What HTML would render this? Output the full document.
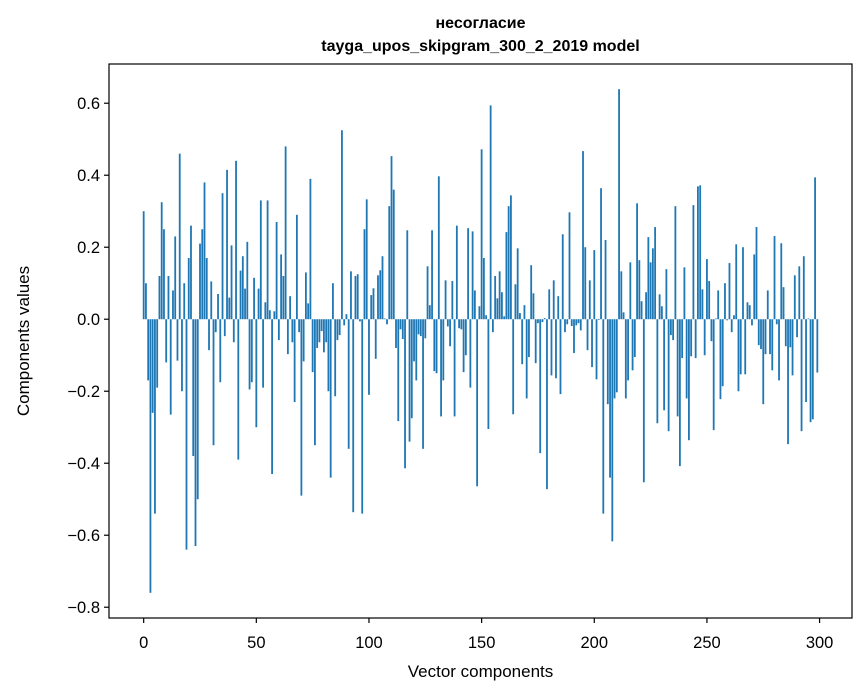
<!DOCTYPE html>
<html><head><meta charset="utf-8">
<style>
html,body{margin:0;padding:0;background:#fff;}
svg{display:block;font-family:"Liberation Sans","DejaVu Sans",sans-serif;}
</style></head>
<body>
<svg id="chart" width="867" height="696" viewBox="0 0 867 696" xmlns="http://www.w3.org/2000/svg">
<rect width="867" height="696" fill="#fff"/>
<text x="480.5" y="28" text-anchor="middle" font-size="16" font-weight="bold" fill="#000">несогласие</text>
<text x="480.5" y="51" text-anchor="middle" font-size="16" font-weight="bold" fill="#000">tayga_upos_skipgram_300_2_2019 model</text>
<g id="bars"></g>
<g id="yticks"></g>
<g id="xticks"></g>
<rect x="109" y="64" width="743" height="554" fill="none" stroke="#000" stroke-width="1.2"/>
<text x="480.5" y="677" text-anchor="middle" font-size="17" fill="#000">Vector components</text>
<text transform="translate(29,341) rotate(-90)" text-anchor="middle" font-size="17" fill="#000">Components values</text>
</svg>
<script>
const values = [
0.30,0.10,-0.17,-0.76,-0.26,-0.54,-0.19,0.12,0.325,0.25,
-0.12,0.12,-0.265,0.08,0.23,-0.115,0.46,-0.20,0.10,-0.64,
0.17,0.26,-0.38,-0.63,-0.50,0.21,0.25,0.38,0.17,-0.086,
0.105,-0.35,-0.036,0.07,-0.175,0.35,-0.047,0.415,0.06,0.205,
-0.064,0.44,-0.39,0.135,0.175,0.085,0.215,-0.195,-0.175,0.115,
-0.30,0.085,0.33,-0.19,0.047,0.33,0.025,-0.43,0.022,0.27,
-0.058,0.18,0.12,0.48,-0.097,0.064,-0.064,-0.23,0.29,-0.036,
-0.49,-0.117,0.13,0.044,0.39,-0.147,-0.35,-0.08,-0.064,-0.033,
-0.092,-0.064,-0.20,-0.44,0.10,-0.214,-0.058,-0.044,0.525,-0.017,
0.014,-0.36,0.133,-0.536,0.12,0.125,-0.006,-0.54,0.25,0.333,
-0.21,0.067,0.086,-0.11,0.122,0.136,0.175,0.002,-0.014,0.314,
0.453,0.36,-0.08,-0.283,-0.028,-0.055,-0.414,0.247,-0.34,-0.275,
-0.117,-0.17,-0.042,-0.047,-0.36,-0.053,0.147,0.039,0.247,-0.144,
-0.15,0.397,-0.27,-0.17,0.108,-0.02,-0.075,0.106,-0.27,0.26,
-0.025,-0.028,-0.147,-0.1,0.253,-0.19,0.244,0.08,-0.464,0.036,
0.472,0.17,0.011,-0.305,0.594,-0.036,0.12,0.058,0.133,0.075,
0.008,0.242,0.314,0.344,-0.264,0.097,0.197,0.017,-0.125,0.039,
-0.22,-0.105,0.15,0.072,-0.122,-0.011,-0.372,-0.008,0.003,-0.472,
0.083,-0.156,0.108,-0.164,0.064,-0.208,0.236,-0.036,-0.014,0.297,
-0.019,-0.094,-0.017,-0.011,-0.031,0.467,0.2,-0.086,0.108,-0.133,
0.192,-0.167,-0.002,0.364,-0.54,0.22,-0.236,-0.44,-0.617,-0.22,
-0.203,0.639,0.133,0.019,-0.22,-0.17,0.158,-0.142,-0.105,0.322,
0.164,0.05,-0.453,0.075,0.228,0.158,0.197,0.256,-0.289,0.069,
0.036,-0.253,0.139,-0.311,-0.044,-0.058,0.314,-0.27,-0.408,-0.108,
0.144,-0.22,-0.336,-0.103,0.317,-0.108,0.369,0.372,0.083,-0.1,
0.167,0.106,-0.061,-0.308,0.002,0.08,-0.222,-0.186,0.1,-0.003,
0.156,-0.036,0.011,0.208,-0.2,-0.153,0.2,-0.153,0.047,0.039,
-0.017,0.18,0.256,-0.072,-0.083,-0.236,-0.097,0.08,-0.097,-0.142,
0.231,-0.014,-0.17,0.211,0.089,-0.075,-0.347,-0.078,-0.156,0.122,
-0.05,0.147,-0.311,0.175,-0.23,0.002,-0.286,-0.278,0.394,-0.148
];
const yTickValues = [-0.8,-0.6,-0.4,-0.2,0.0,0.2,0.4,0.6];
const xTickValues = [0,50,100,150,200,250,300];

const L=109,R=852,T=64,B=618;
const xmin0=-0.4, xmax0=values.length-1+0.4, xm=(xmax0-xmin0)*0.05;
const xd=[xmin0-xm,xmax0+xm];
const vmin=Math.min(0,...values), vmax=Math.max(0,...values), ym=(vmax-vmin)*0.05;
const yd=[vmin-ym,vmax+ym];
function xs(v){return L+(v-xd[0])/(xd[1]-xd[0])*(R-L);}
function ys(v){return B-(v-yd[0])/(yd[1]-yd[0])*(B-T);}
const NS="http://www.w3.org/2000/svg";
const gb=document.getElementById('bars');
values.forEach((v,i)=>{
  const r=document.createElementNS(NS,'rect');
  const x0=xs(i-0.4), x1=xs(i+0.4);
  const y0=ys(Math.max(0,v)), y1=ys(Math.min(0,v));
  r.setAttribute('x',x0);r.setAttribute('width',x1-x0);
  r.setAttribute('y',y0);r.setAttribute('height',Math.max(0,y1-y0));
  r.setAttribute('fill','#1f77b4');
  
  
  gb.appendChild(r);
});
const gy=document.getElementById('yticks');
yTickValues.forEach(t=>{
  const y=ys(t);
  const l=document.createElementNS(NS,'line');
  l.setAttribute('x1',L-5);l.setAttribute('x2',L);l.setAttribute('y1',y);l.setAttribute('y2',y);
  l.setAttribute('stroke','#000');l.setAttribute('stroke-width','1.2');
  
  
  gy.appendChild(l);
  const tx=document.createElementNS(NS,'text');
  tx.setAttribute('x',L-9);tx.setAttribute('y',y+6);tx.setAttribute('text-anchor','end');
  tx.setAttribute('font-size','16.5');
  tx.textContent=(t<0?'\u2212':'')+Math.abs(t).toFixed(1);
  
  
  gy.appendChild(tx);
});
const gx=document.getElementById('xticks');
xTickValues.forEach(t=>{
  const x=xs(t);
  const l=document.createElementNS(NS,'line');
  l.setAttribute('x1',x);l.setAttribute('x2',x);l.setAttribute('y1',B);l.setAttribute('y2',B+5);
  l.setAttribute('stroke','#000');l.setAttribute('stroke-width','1.2');
  
  
  gx.appendChild(l);
  const tx=document.createElementNS(NS,'text');
  tx.setAttribute('x',x);tx.setAttribute('y',B+30);tx.setAttribute('text-anchor','middle');
  tx.setAttribute('font-size','16.5');
  tx.textContent=String(t);
  
  
  gx.appendChild(tx);
});
</script>
</body></html>
